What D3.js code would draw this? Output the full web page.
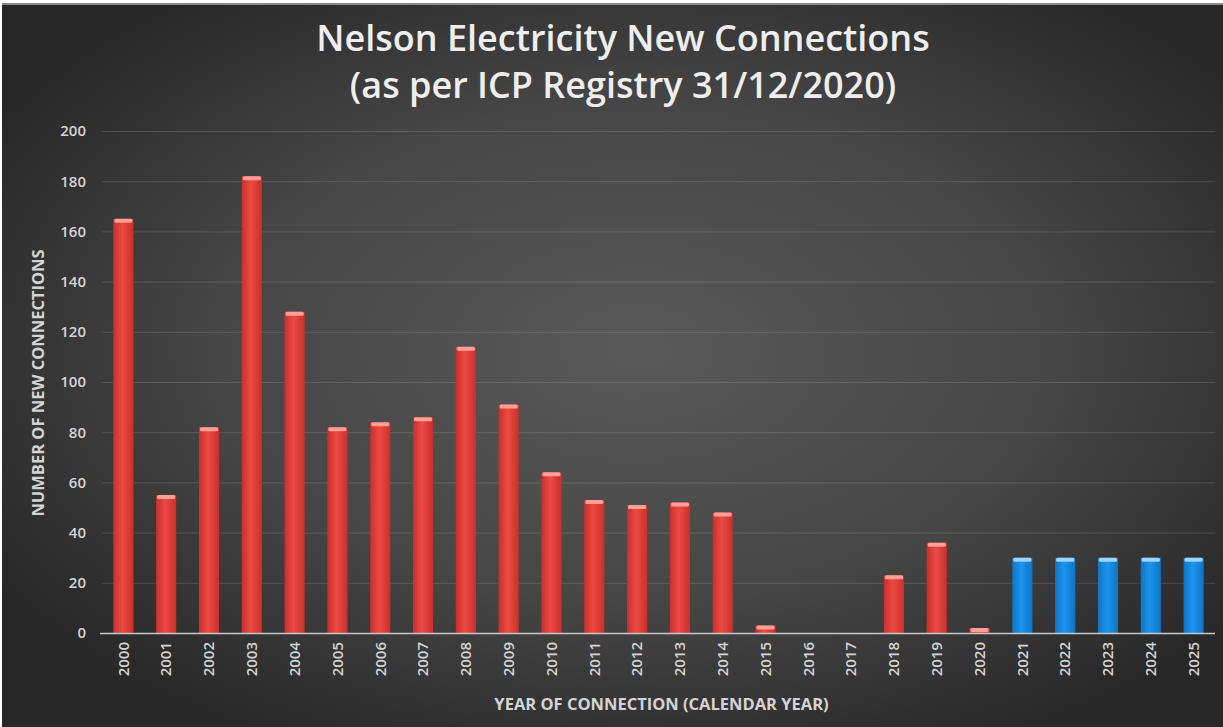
<!DOCTYPE html>
<html><head><meta charset="utf-8">
<script src="https://cdn.jsdelivr.net/npm/d3@7"></script>
<style>html,body{margin:0;padding:0;background:#fff;overflow:hidden}svg{display:block}</style>
</head><body>
<svg id="c" width="1223" height="727"></svg>
<script>
const years = ["2000","2001","2002","2003","2004","2005","2006","2007","2008","2009","2010","2011","2012","2013","2014","2015","2016","2017","2018","2019","2020","2021","2022","2023","2024","2025"];
const connections = [165,55,82,182,128,82,84,86,114,91,64,53,51,52,48,3,0,0,23,36,2,30,30,30,30,30];
const forecastYears = ["2021","2022","2023","2024","2025"];
const yTicks = [0,20,40,60,80,100,120,140,160,180,200];
const titleLines = ["Nelson Electricity New Connections","(as per ICP Registry 31/12/2020)"];
const yTitle = "NUMBER OF NEW CONNECTIONS";
const xTitle = "YEAR OF CONNECTION (CALENDAR YEAR)";

const W=1223,H=727;
const svg=d3.select("#c");
const defs=svg.append("defs");
const bg=defs.append("radialGradient").attr("id","bg").attr("cx","52%").attr("cy","48%").attr("r","62%");
bg.append("stop").attr("offset","0%").attr("stop-color","#595959");
bg.append("stop").attr("offset","55%").attr("stop-color","#464646");
bg.append("stop").attr("offset","100%").attr("stop-color","#272727");
function barGrad(id,edge,mid){
  const g=defs.append("linearGradient").attr("id",id).attr("x1","0").attr("x2","1").attr("y1","0").attr("y2","0");
  g.append("stop").attr("offset","0%").attr("stop-color",edge);
  g.append("stop").attr("offset","45%").attr("stop-color",mid);
  g.append("stop").attr("offset","100%").attr("stop-color",edge);
}
barGrad("red","#c8302c","#ec4a43");
barGrad("blue","#0f74c4","#1d94ee");

svg.append("rect").attr("width",W).attr("height",H).attr("fill","#ffffff");
svg.append("rect").attr("x",2).attr("y",4).attr("width",W-2).attr("height",H-4).attr("fill","url(#bg)");
svg.append("rect").attr("x",2).attr("y",3).attr("width",W-2).attr("height",2).attr("fill","#8a8a8a");

const m={l:102,r:1215,t:131,b:633};
const x=d3.scaleBand().domain(years).range([m.l,m.r]).paddingInner(0.53).paddingOuter(0.265);
const y=d3.scaleLinear().domain([0,200]).range([m.b,m.t]);

const font="'Open Sans', 'Liberation Sans', sans-serif";

// gridlines
const grid=svg.append("g").call(d3.axisLeft(y).tickValues(yTicks).tickSize(-(m.r-m.l)).tickFormat(""))
  .attr("transform",`translate(${m.l},0)`);
grid.select(".domain").remove();
grid.selectAll("line").attr("stroke","#ffffff").attr("stroke-opacity",0.13);

// y labels
const ya=svg.append("g").attr("transform",`translate(${m.l},0)`)
  .call(d3.axisLeft(y).tickValues(yTicks).tickSize(0).tickPadding(16));
ya.select(".domain").remove();
ya.selectAll("text").attr("fill","#d4d4d4").style("font-family",font).style("font-size","15px").style("font-weight","600");

// bars
const bars=svg.append("g");
bars.selectAll("rect.bar").data(years).join("rect").attr("class","bar")
  .attr("x",d=>x(d)).attr("width",x.bandwidth())
  .attr("y",(d,i)=>y(connections[i])).attr("height",(d,i)=>y(0)-y(connections[i]))
  .attr("fill",d=>forecastYears.includes(d)?"url(#blue)":"url(#red)");
bars.selectAll("rect.cap").data(years.filter((d,i)=>connections[i]>0)).join("rect").attr("class","cap")
  .attr("x",d=>x(d)+1).attr("width",x.bandwidth()-2)
  .attr("y",d=>y(connections[years.indexOf(d)])).attr("height",d=>Math.min(4,y(0)-y(connections[years.indexOf(d)])))
  .attr("rx",1.5)
  .attr("fill",d=>forecastYears.includes(d)?"#9fd4fb":"#ff9f96");

// baseline
svg.append("line").attr("x1",m.l-2).attr("x2",m.r).attr("y1",y(0)+0.5).attr("y2",y(0)+0.5)
  .attr("stroke","#c8c8c8").attr("stroke-width",1.5);

// x labels
const xa=svg.append("g").attr("transform",`translate(0,${m.b})`)
  .call(d3.axisBottom(x).tickSize(0).tickPadding(0));
xa.select(".domain").remove();
xa.selectAll("text").attr("transform","rotate(-90)").attr("text-anchor","end")
  .attr("x",-9).attr("y",0).attr("dy","0.35em")
  .attr("fill","#d4d4d4").style("font-family",font).style("font-size","15px").style("font-weight","600");

// titles
svg.append("g").selectAll("text").data(titleLines).join("text")
  .attr("x",623).attr("y",(d,i)=>51+i*47).attr("text-anchor","middle")
  .attr("fill","#eeeeee").style("font-family",font).style("font-size","36px").style("font-weight","600")
  .text(d=>d);
svg.append("text").attr("transform",`translate(44,383) rotate(-90)`).attr("text-anchor","middle")
  .attr("fill","#d4d4d4").style("font-family",font).style("font-size","16.5px").style("font-weight","700").text(yTitle);
svg.append("text").attr("x",(m.l+m.r)/2+3).attr("y",710).attr("text-anchor","middle")
  .attr("fill","#d4d4d4").style("font-family",font).style("font-size","16.5px").style("font-weight","700").text(xTitle);
</script>
</body></html>
